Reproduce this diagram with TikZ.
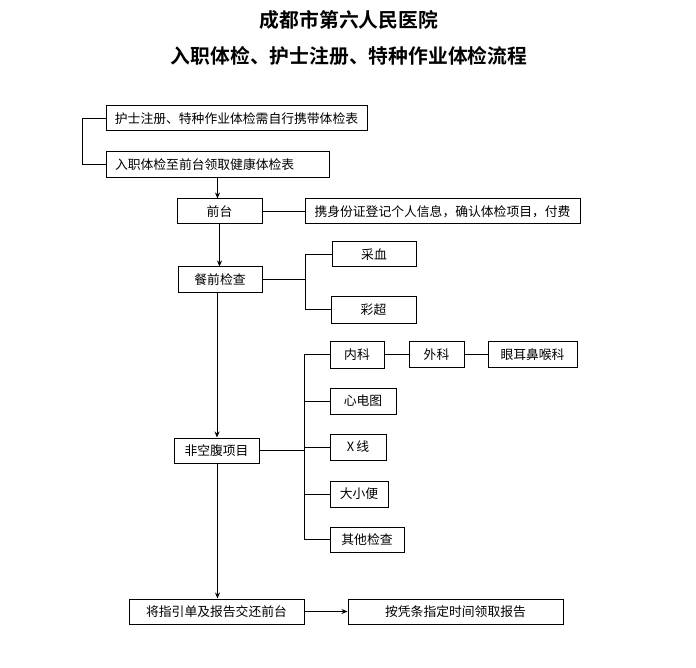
\documentclass[tikz,border=0pt]{standalone}
\usepackage{fontspec}
\newfontfamily\cjk{Noto Sans CJK SC}
\newfontfamily\cjkb{Noto Sans CJK SC}[BoldFont={* Bold}]
\usetikzlibrary{arrows.meta}
\begin{document}
\begin{tikzpicture}[x=1pt,y=-1pt,
  box/.style={draw=black,line width=1pt,fill=white,inner sep=0pt,font=\cjk\fontsize{12.8}{14}\selectfont},
  conn/.style={draw=black,line width=1pt},
  arr/.style={conn,-{Stealth[length=6pt,width=5pt]}},
  ttl/.style={font=\cjkb\bfseries\fontsize{19.8}{22}\selectfont}]
\useasboundingbox (0,0) rectangle (696,668);
\node[ttl] (t1) at (349,20) {成都市第六人民医院};
\node[ttl] (t2) at (349,56) {入职体检、护士注册、特种作业体检流程};

\node[box,minimum width=261,minimum height=25] (b1) at (236.5,118.5) {护士注册、特种作业体检需自行携带体检表};
\node[box,text width=205,inner xsep=9,align=left,minimum height=26] (b2) at (217.5,165) {入职体检至前台领取健康体检表};
\node[box,minimum width=85,minimum height=25] (qt) at (219.5,211.5) {前台};
\node[box,minimum width=275,minimum height=25] (sf) at (442.5,211.5) {携身份证登记个人信息，确认体检项目，付费};
\node[box,minimum width=84,minimum height=26] (cq) at (220,280) {餐前检查};
\node[box,minimum width=84,minimum height=25] (cx) at (374,254.5) {采血};
\node[box,minimum width=85,minimum height=26] (cc) at (373.5,310) {彩超};
\node[box,minimum width=85,minimum height=25] (fk) at (216.5,450.5) {非空腹项目};
\node[box,minimum width=54,minimum height=27] (nk) at (357,354.5) {内科};
\node[box,minimum width=55,minimum height=26] (wk) at (436.5,354.5) {外科};
\node[box,minimum width=89,minimum height=26] (ye) at (532.5,354.5) {眼耳鼻喉科};
\node[box,minimum width=66,minimum height=26] (xd) at (363,401) {心电图};
\node[box,minimum width=56,minimum height=26] (xx) at (358,447) {X\,线};
\node[box,minimum width=58,minimum height=26] (dx) at (359,494) {大小便};
\node[box,minimum width=74,minimum height=25] (qj) at (367,539.5) {其他检查};
\node[box,minimum width=175,minimum height=25] (jz) at (216.5,611.5) {将指引单及报告交还前台};
\node[box,minimum width=215,minimum height=25] (ap) at (455.5,611.5) {按凭条指定时间领取报告};

\coordinate (j1) at (305,280);
\coordinate (j2) at (304,449);

% top bracket
\draw[conn] (b1.west) -- ++(-23,0) |- (b2.west);
% vertical flow
\draw[arr] (b2.south) -- (b2.south |- qt.north);
\draw[conn] (qt.east) -- (sf.west);
\draw[arr] (qt.south) -- (qt.south |- cq.north);
\draw[conn] (cq.east) -- (j1);
\draw[conn] (cx.west) -- (cx.west -| j1) |- (cc.west);
\draw[arr] (cq.south) ++(-3,0) -- (fk.north -| 217,0);
\draw[conn] (fk.east) -- (fk.east -| j2);
\draw[conn] (nk.west) -- (nk.west -| j2) |- (qj.west);
\draw[conn] (xd.west) -- (xd.west -| j2);
\draw[conn] (xx.west) -- (xx.west -| j2);
\draw[conn] (dx.west) -- (dx.west -| j2);
\draw[conn] (nk.east) -- (wk.west);
\draw[conn] (wk.east) -- (ye.west);
\draw[arr] (fk.south) ++(1,0) -- (jz.north -| 217.5,0);
\draw[arr] (jz.east) -- (ap.west);
\end{tikzpicture}
\end{document}
